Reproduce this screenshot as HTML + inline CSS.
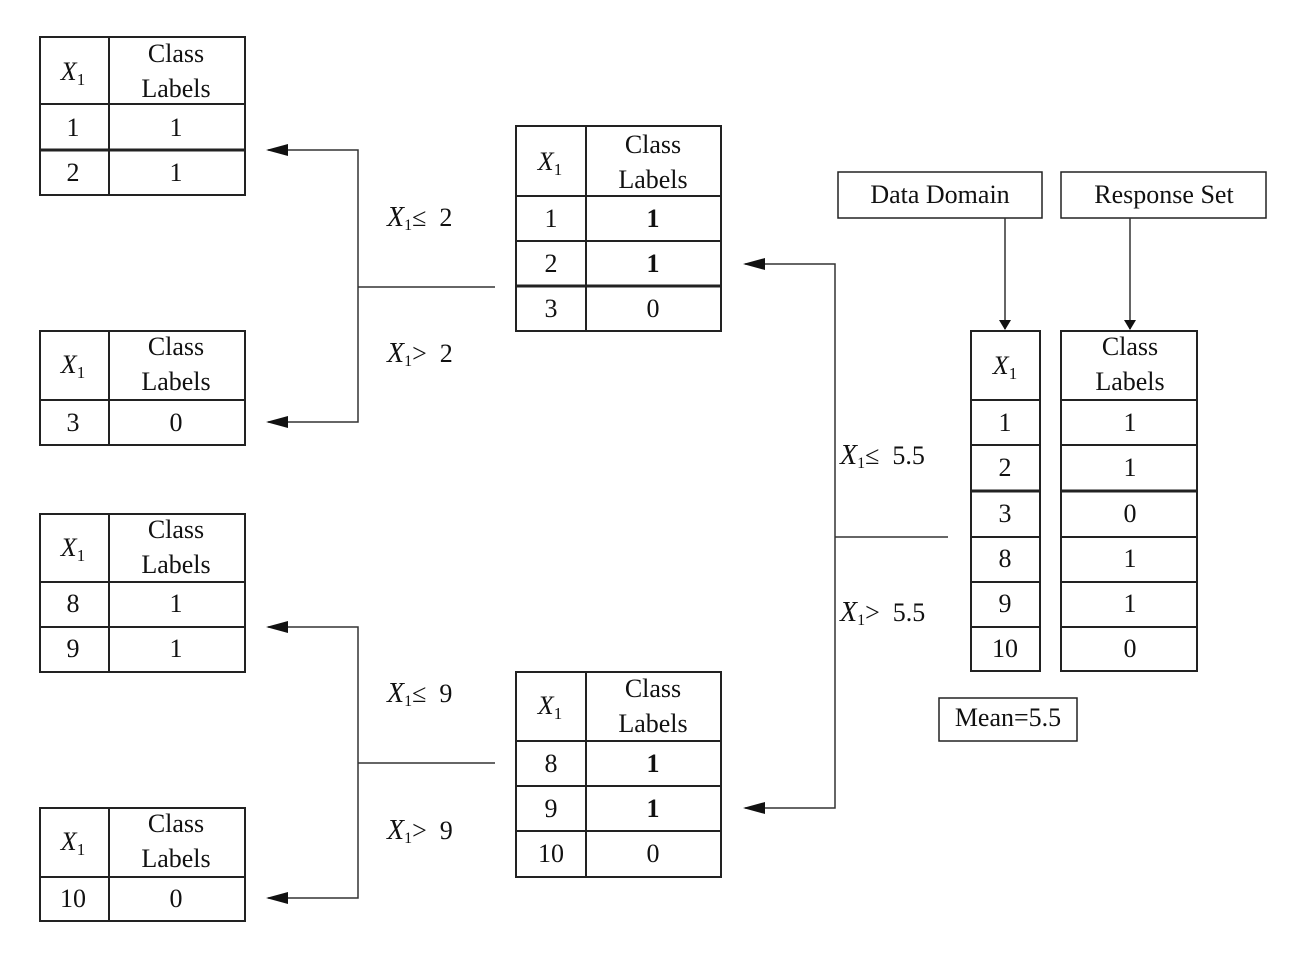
<!DOCTYPE html>
<html><head><meta charset="utf-8"><style>
html,body{margin:0;padding:0;background:#fff;}
svg text{font-family:"Liberation Serif",serif;font-size:26px;fill:#111;}
.i{font-style:italic;}
</style></head><body>
<svg width="1302" height="956" viewBox="0 0 1302 956" xmlns="http://www.w3.org/2000/svg">
<defs><marker id="a" markerWidth="10" markerHeight="12" refX="9" refY="6" orient="auto" markerUnits="userSpaceOnUse"><path d="M0,0 L10,6 L0,12 Z" fill="#111"/></marker>
<marker id="b" markerWidth="22" markerHeight="12" refX="20" refY="6" orient="auto" markerUnits="userSpaceOnUse"><path d="M0,0 L22,6 L0,12 Z" fill="#111"/></marker></defs>
<g stroke="#222" stroke-width="2" fill="none">
<rect x="40" y="37" width="205" height="158"/><line x1="109" y1="37" x2="109" y2="195"/><line x1="40" y1="104" x2="245" y2="104"/><line x1="40" y1="150" x2="245" y2="150" stroke-width="3"/>
<rect x="40" y="331" width="205" height="114"/><line x1="109" y1="331" x2="109" y2="445"/><line x1="40" y1="400" x2="245" y2="400"/>
<rect x="40" y="514" width="205" height="158"/><line x1="109" y1="514" x2="109" y2="672"/><line x1="40" y1="582" x2="245" y2="582"/><line x1="40" y1="627" x2="245" y2="627"/>
<rect x="40" y="808" width="205" height="113"/><line x1="109" y1="808" x2="109" y2="921"/><line x1="40" y1="877" x2="245" y2="877"/>
<rect x="516" y="126" width="205" height="205"/><line x1="586" y1="126" x2="586" y2="331"/><line x1="516" y1="196" x2="721" y2="196"/><line x1="516" y1="241" x2="721" y2="241"/><line x1="516" y1="286" x2="721" y2="286" stroke-width="3"/>
<rect x="516" y="672" width="205" height="205"/><line x1="586" y1="672" x2="586" y2="877"/><line x1="516" y1="741" x2="721" y2="741"/><line x1="516" y1="786" x2="721" y2="786"/><line x1="516" y1="831" x2="721" y2="831"/>
<rect x="838" y="172" width="204" height="46" stroke-width="1.5"/><rect x="1061" y="172" width="205" height="46" stroke-width="1.5"/>
<rect x="971" y="331" width="69" height="340"/><rect x="1061" y="331" width="136" height="340"/>
<path d="M971 400H1040M971 445H1040M971 491H1040M971 537H1040M971 582H1040M971 627H1040"/>
<path d="M1061 400H1197M1061 445H1197M1061 491H1197M1061 537H1197M1061 582H1197M1061 627H1197"/>
<line x1="971" y1="491" x2="1040" y2="491" stroke-width="3"/><line x1="1061" y1="491" x2="1197" y2="491" stroke-width="3"/>
<rect x="939" y="698" width="138" height="43" stroke-width="1.5"/>
</g>
<g stroke="#333" stroke-width="1.5" fill="none">
<path d="M1005 218V329" marker-end="url(#a)"/><path d="M1130 218V329" marker-end="url(#a)"/>
<path d="M495 287H358"/><path d="M358 287V150H268" marker-end="url(#b)"/><path d="M358 287V422H268" marker-end="url(#b)"/>
<path d="M495 763H358"/><path d="M358 763V627H268" marker-end="url(#b)"/><path d="M358 763V898H268" marker-end="url(#b)"/>
<path d="M948 537H835"/><path d="M835 537V264H745" marker-end="url(#b)"/><path d="M835 537V808H745" marker-end="url(#b)"/>
</g>
<g text-anchor="middle">
<text x="176" y="62">Class</text><text x="176" y="97">Labels</text><text x="73" y="80" class="i" font-size="28">X<tspan font-size="17" dy="5" font-style="normal">1</tspan></text>
<text x="73" y="136">1</text><text x="176" y="136">1</text><text x="73" y="181">2</text><text x="176" y="181">1</text>
<text x="176" y="355">Class</text><text x="176" y="390">Labels</text><text x="73" y="373" class="i" font-size="28">X<tspan font-size="17" dy="5" font-style="normal">1</tspan></text>
<text x="73" y="431">3</text><text x="176" y="431">0</text>
<text x="176" y="538">Class</text><text x="176" y="573">Labels</text><text x="73" y="556" class="i" font-size="28">X<tspan font-size="17" dy="5" font-style="normal">1</tspan></text>
<text x="73" y="612">8</text><text x="176" y="612">1</text><text x="73" y="657">9</text><text x="176" y="657">1</text>
<text x="176" y="832">Class</text><text x="176" y="867">Labels</text><text x="73" y="850" class="i" font-size="28">X<tspan font-size="17" dy="5" font-style="normal">1</tspan></text>
<text x="73" y="907">10</text><text x="176" y="907">0</text>
<text x="653" y="153">Class</text><text x="653" y="188">Labels</text><text x="550" y="170" class="i" font-size="28">X<tspan font-size="17" dy="5" font-style="normal">1</tspan></text>
<text x="551" y="227">1</text><text x="653" y="227" font-weight="bold">1</text><text x="551" y="272">2</text><text x="653" y="272" font-weight="bold">1</text><text x="551" y="317">3</text><text x="653" y="317">0</text>
<text x="653" y="697">Class</text><text x="653" y="732">Labels</text><text x="550" y="714" class="i" font-size="28">X<tspan font-size="17" dy="5" font-style="normal">1</tspan></text>
<text x="551" y="772">8</text><text x="653" y="772" font-weight="bold">1</text><text x="551" y="817">9</text><text x="653" y="817" font-weight="bold">1</text><text x="551" y="862">10</text><text x="653" y="862">0</text>
<text x="940" y="203">Data Domain</text><text x="1164" y="203">Response Set</text>
<text x="1005" y="374" class="i" font-size="28">X<tspan font-size="17" dy="5" font-style="normal">1</tspan></text>
<text x="1130" y="355">Class</text><text x="1130" y="390">Labels</text>
<text x="1005" y="431">1</text><text x="1130" y="431">1</text>
<text x="1005" y="476">2</text><text x="1130" y="476">1</text>
<text x="1005" y="522">3</text><text x="1130" y="522">0</text>
<text x="1005" y="567">8</text><text x="1130" y="567">1</text>
<text x="1005" y="612">9</text><text x="1130" y="612">1</text>
<text x="1005" y="657">10</text><text x="1130" y="657">0</text>
<text x="1008" y="726">Mean=5.5</text>
</g>
<g>
<text x="387" y="226"><tspan class="i" font-size="28">X</tspan><tspan font-size="16" dy="4">1</tspan><tspan dy="-4" xml:space="preserve">≤  2</tspan></text>
<text x="387" y="362"><tspan class="i" font-size="28">X</tspan><tspan font-size="16" dy="4">1</tspan><tspan dy="-4" xml:space="preserve">&gt;  2</tspan></text>
<text x="840" y="464"><tspan class="i" font-size="28">X</tspan><tspan font-size="16" dy="4">1</tspan><tspan dy="-4" xml:space="preserve">≤  5.5</tspan></text>
<text x="840" y="621"><tspan class="i" font-size="28">X</tspan><tspan font-size="16" dy="4">1</tspan><tspan dy="-4" xml:space="preserve">&gt;  5.5</tspan></text>
<text x="387" y="702"><tspan class="i" font-size="28">X</tspan><tspan font-size="16" dy="4">1</tspan><tspan dy="-4" xml:space="preserve">≤  9</tspan></text>
<text x="387" y="839"><tspan class="i" font-size="28">X</tspan><tspan font-size="16" dy="4">1</tspan><tspan dy="-4" xml:space="preserve">&gt;  9</tspan></text>
</g>
</svg>
</body></html>
